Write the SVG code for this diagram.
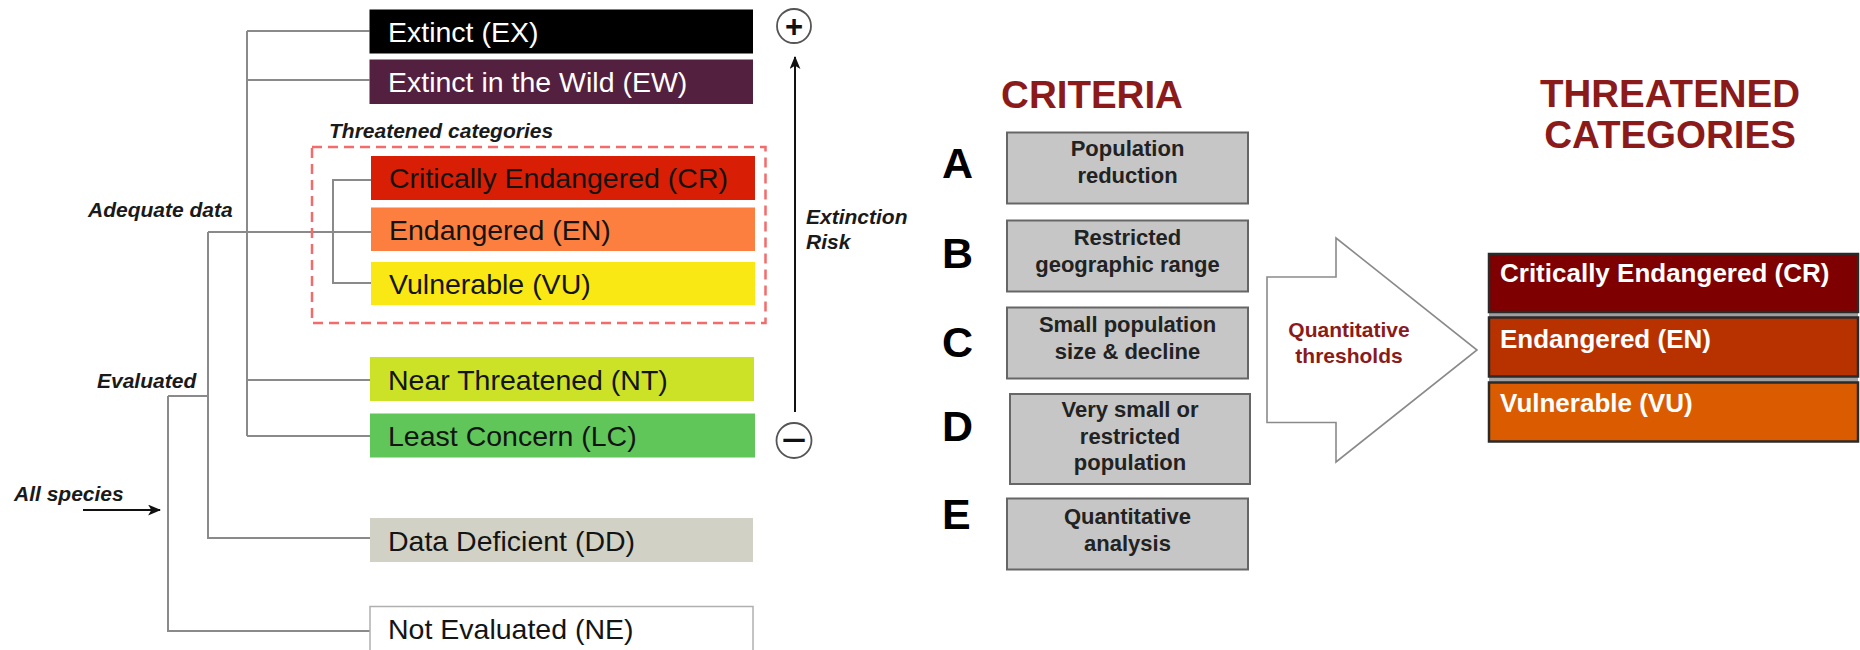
<svg xmlns="http://www.w3.org/2000/svg" width="1860" height="650" viewBox="0 0 1860 650">
<style>
text { font-family: "Liberation Sans", Arial, Helvetica, sans-serif; }
.cat { font-size: 28.5px; fill: #141414; }
.catw { fill: #ffffff; }
.lbl { font-size: 21px; font-weight: bold; font-style: italic; fill: #1a1a1a; }
.conn { stroke: #8a8a8a; stroke-width: 2; fill: none; }
.blk { stroke: #111; stroke-width: 2; fill: none; }
.crit { fill: #c6c6c6; stroke: #666; stroke-width: 2; }
.ct { font-size: 22px; font-weight: bold; fill: #222; text-anchor: middle; }
.letter { font-size: 43px; font-weight: bold; fill: #000; }
.title { font-size: 38.5px; font-weight: bold; fill: #8b1a1a; text-anchor: middle; }
.tc { stroke: #2a2a2a; stroke-width: 2.5; }
.tct { font-size: 26px; font-weight: bold; fill: #ffffff; }
.circ { fill: #fff; stroke: #555; stroke-width: 1.8; }
</style>
<defs>
<marker id="ah" viewBox="0 0 12 10" refX="11" refY="5" markerWidth="13" markerHeight="11" markerUnits="userSpaceOnUse" orient="auto">
<path d="M0 0 L12 5 L0 10 L3 5 Z" fill="#111"/>
</marker>
</defs>

<g id="connectors">
<path class="conn" d="M247 31 V436 M247 31 H369.5 M247 80 H369.5 M247 380 H370 M247 436 H370"/>
<path class="conn" d="M208 232 H371"/>
<path class="conn" d="M371 180 H333 V283 H371"/>
<path class="conn" d="M208 232 V538 H370"/>
<path class="conn" d="M168 396 H208 M168 396 V631 H370"/>
<path class="blk" d="M83 510 H160" marker-end="url(#ah)"/>
<path class="blk" d="M795 412 V57" marker-end="url(#ah)"/>
<path d="M1267 277 H1336 V238 L1477 350 L1336 462 V422.5 H1267 Z" fill="#fff" stroke="#8a8a8a" stroke-width="1.6"/>
</g>

<g id="threatened-frame">
<rect x="312" y="147" width="453.5" height="176" fill="none" stroke="#f56b6b" stroke-width="2.5" stroke-dasharray="10 6"/>
<text class="lbl" x="329" y="138">Threatened categories</text>
</g>

<g id="ex"><rect x="369.5" y="9.5" width="383.5" height="44" fill="#000"/><text class="cat catw" x="388" y="42">Extinct (EX)</text></g>
<g id="ew"><rect x="369.5" y="59.5" width="383.5" height="44.5" fill="#54203f"/><text class="cat catw" x="388" y="92">Extinct in the Wild (EW)</text></g>
<g id="cr"><rect x="371" y="156" width="384" height="44" fill="#d81e05"/><text class="cat" x="389" y="188">Critically Endangered (CR)</text></g>
<g id="en"><rect x="371" y="207.5" width="384" height="43.5" fill="#fc7f3f"/><text class="cat" x="389" y="240">Endangered (EN)</text></g>
<g id="vu"><rect x="371" y="262" width="384" height="43" fill="#f9e814"/><text class="cat" x="389" y="294">Vulnerable (VU)</text></g>
<g id="nt"><rect x="370" y="357" width="384" height="44" fill="#cce226"/><text class="cat" x="388" y="390">Near Threatened (NT)</text></g>
<g id="lc"><rect x="370" y="413.5" width="385" height="44" fill="#60c659"/><text class="cat" x="388" y="446">Least Concern (LC)</text></g>
<g id="dd"><rect x="370" y="518" width="383" height="44" fill="#d1d1c6"/><text class="cat" x="388" y="551">Data Deficient (DD)</text></g>
<g id="ne"><rect x="370" y="606.5" width="383" height="50" fill="#fff" stroke="#b0b0b0" stroke-width="1.5"/><text class="cat" x="388" y="639">Not Evaluated (NE)</text></g>

<g id="labels">
<text class="lbl" x="88" y="217">Adequate data</text>
<text class="lbl" x="97" y="388">Evaluated</text>
<text class="lbl" x="14" y="501">All species</text>
<text class="lbl" x="806" y="224">Extinction</text>
<text class="lbl" x="806" y="249">Risk</text>
</g>

<g id="plus"><circle class="circ" cx="794" cy="26" r="17"/><text x="794" y="37" font-size="31" font-weight="bold" text-anchor="middle" fill="#111">+</text></g>
<g id="minus"><circle class="circ" cx="794" cy="440.5" r="17.5"/><text x="794" y="455" font-size="44" text-anchor="middle" fill="#111">−</text></g>

<g id="criteria-title"><text class="title" x="1092" y="107.5">CRITERIA</text></g>

<g id="crit-a"><text class="letter" x="942" y="178">A</text><rect class="crit" x="1007" y="132.5" width="241" height="71"/><text class="ct" x="1127.5" y="156">Population</text><text class="ct" x="1127.5" y="183">reduction</text></g>
<g id="crit-b"><text class="letter" x="942" y="268">B</text><rect class="crit" x="1007" y="220.5" width="241" height="71"/><text class="ct" x="1127.5" y="245">Restricted</text><text class="ct" x="1127.5" y="272">geographic range</text></g>
<g id="crit-c"><text class="letter" x="942" y="357">C</text><rect class="crit" x="1007" y="307.5" width="241" height="71"/><text class="ct" x="1127.5" y="332">Small population</text><text class="ct" x="1127.5" y="359">size &amp; decline</text></g>
<g id="crit-d"><text class="letter" x="942" y="441">D</text><rect class="crit" x="1010" y="394" width="240" height="90"/><text class="ct" x="1130" y="417">Very small or</text><text class="ct" x="1130" y="443.5">restricted</text><text class="ct" x="1130" y="470">population</text></g>
<g id="crit-e"><text class="letter" x="942" y="529">E</text><rect class="crit" x="1007" y="498.5" width="241" height="71"/><text class="ct" x="1127.5" y="524">Quantitative</text><text class="ct" x="1127.5" y="551">analysis</text></g>

<g id="thresholds"><text x="1349" y="337" font-size="21" font-weight="bold" fill="#8b1a1a" text-anchor="middle">Quantitative</text><text x="1349" y="363" font-size="21" font-weight="bold" fill="#8b1a1a" text-anchor="middle">thresholds</text></g>

<g id="threatened-title"><text class="title" x="1670" y="107">THREATENED</text><text class="title" x="1670" y="148">CATEGORIES</text></g>

<g id="tc-backing"><rect x="1489" y="254" width="369" height="187" fill="#a0a0a0"/></g>
<g id="tc-cr"><rect class="tc" x="1489" y="254" width="369" height="58" fill="#7e0000"/><text class="tct" x="1500" y="282">Critically Endangered (CR)</text></g>
<g id="tc-en"><rect class="tc" x="1489" y="317.5" width="369" height="59" fill="#b83200"/><text class="tct" x="1500" y="348">Endangered (EN)</text></g>
<g id="tc-vu"><rect class="tc" x="1489" y="382.5" width="369" height="59" fill="#db5c00"/><text class="tct" x="1500" y="412">Vulnerable (VU)</text></g>
</svg>
